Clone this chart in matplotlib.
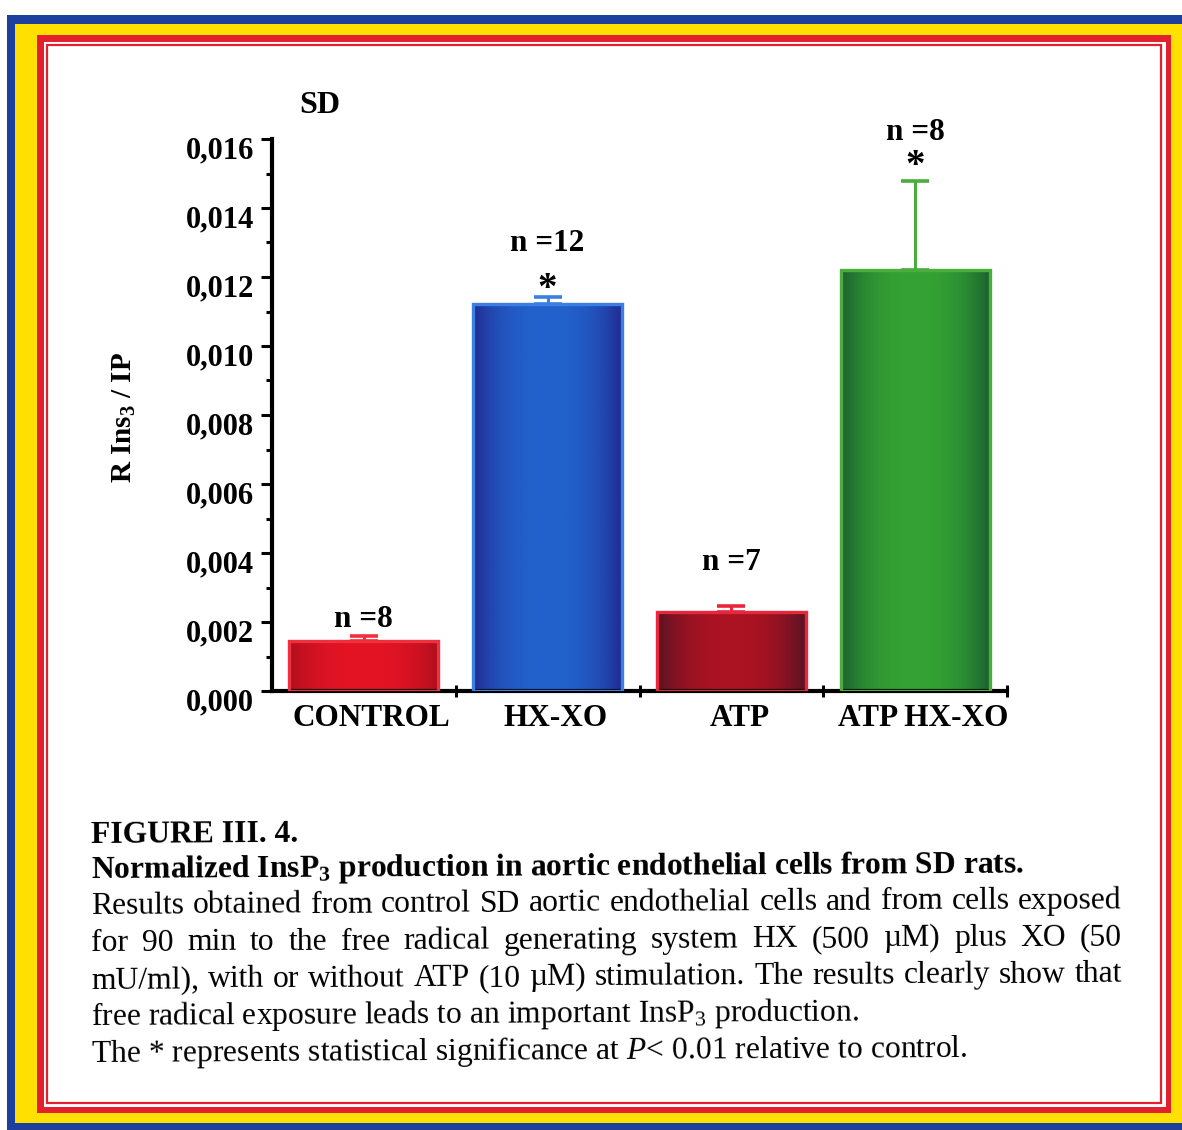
import matplotlib
matplotlib.use("Agg")
import matplotlib.pyplot as plt
import numpy as np
from matplotlib.patches import Rectangle
from matplotlib.colors import to_rgb
from matplotlib.transforms import ScaledTranslation

plt.rcParams['font.family'] = ['Liberation Serif', 'DejaVu Serif']
plt.rcParams['mathtext.fontset'] = 'custom'
plt.rcParams['mathtext.rm'] = 'Liberation Serif'
plt.rcParams['mathtext.it'] = 'Liberation Serif:italic'
plt.rcParams['mathtext.bf'] = 'Liberation Serif:bold'

# data
groups = ["CONTROL", "HX-XO", "ATP", "ATP HX-XO"]
means = [0.00145, 0.01122, 0.00229, 0.01220]
errors = [0.00013, 0.00020, 0.00016, 0.00258]
n_labels = ["n =8", "n =12", "n =7", "n =8"]
significant = [False, True, False, True]
yticks = [0.000, 0.002, 0.004, 0.006, 0.008, 0.010, 0.012, 0.014, 0.016]

# bar shading: dark edge -> bright middle, plus a lighter outline
edge_cols = ["#b00e1e", "#222a92", "#561424", "#1b6030"]
mid_cols = ["#e41424", "#2262cc", "#ac1222", "#34a234"]
line_cols = ["#f0303c", "#3a80e2", "#e8283a", "#4aad3c"]

# annotation heights (data units)
n_label_y = [0.00186, 0.01275, 0.00351, 0.01597]
star_y = [None, 0.01137, None, 0.01494]

W, H = 1182, 1130
fig = plt.figure(figsize=(W / 100, H / 100), dpi=100)

# --- page frame, drawn in pixel coordinates ---
bg = fig.add_axes([0, 0, 1, 1])
bg.set_xlim(0, W)
bg.set_ylim(H, 0)
bg.axis('off')
bg.add_patch(Rectangle((7, 15), W + 20, H + 20, color="#1d3f9e", lw=0))
bg.add_patch(Rectangle((15, 24), W + 20, 1123 - 24, color="#ffe000", lw=0))
bg.add_patch(Rectangle((37, 35), 1171 - 37, 1113 - 35, color="#e3202e", lw=0))
bg.add_patch(Rectangle((44, 42), 1166 - 44, 1107 - 42, color="white", lw=0))
bg.add_patch(Rectangle((47, 45), 1161 - 47, 1103 - 45, fill=False,
                       edgecolor="#e3202e", lw=1.6))

# --- bar chart ---
ax = fig.add_axes([272 / W, 1 - 691 / H, 735 / W, 552 / H])
ax.patch.set_alpha(0)

bw = 0.81
t = np.linspace(-1, 1, 300)
shade = 1 - np.abs(t) ** 2.5
for i in range(len(groups)):
    e = np.array(to_rgb(edge_cols[i]))
    m = np.array(to_rgb(mid_cols[i]))
    img = (e[None, :] + (m - e)[None, :] * shade[:, None])[None, :, :]
    x0 = i - bw / 2
    ax.imshow(img, extent=(x0, x0 + bw, 0, means[i]), aspect='auto',
              interpolation='bilinear', zorder=2)
    ax.add_patch(Rectangle((x0, 0), bw, means[i], fill=False,
                           edgecolor=line_cols[i], lw=2.4, zorder=3))
    ax.errorbar(i, means[i], yerr=[[0], [errors[i]]], fmt='none',
                ecolor=line_cols[i], elinewidth=2.2, capsize=10,
                capthick=2.6, zorder=4)
    ax.text(i, n_label_y[i], n_labels[i], ha='center', va='baseline',
            fontsize=22.5, fontweight='bold')
    if significant[i]:
        ax.text(i, star_y[i], "*", ha='center', va='baseline',
                fontsize=28, fontweight='bold')

ax.set_xlim(-0.5, 3.5)
ax.set_ylim(0, 0.016)
ax.spines['top'].set_visible(False)
ax.spines['right'].set_visible(False)
ax.spines['left'].set_linewidth(3)
ax.spines['bottom'].set_linewidth(3)

ax.set_yticks(yticks)
ax.set_yticklabels([f"{v:.3f}".replace('.', ',') for v in yticks],
                   fontsize=22, fontweight='bold')
ax.set_yticks(np.arange(0.001, 0.016, 0.002), minor=True)
ax.tick_params(axis='y', which='major', length=8, width=2.2, pad=5)
ax.tick_params(axis='y', which='minor', length=4.5, width=2.2)
for lab in ax.get_yticklabels():
    lab.set_transform(lab.get_transform() + ScaledTranslation(0, -0.08, fig.dpi_scale_trans))

ax.set_xticks(range(len(groups)))
ax.set_xticklabels(groups, fontsize=22.5, fontweight='bold')
ax.set_xticks([0.5, 1.5, 2.5, 3.5], minor=True)
ax.tick_params(axis='x', which='major', length=0, pad=9)
ax.tick_params(axis='x', which='minor', direction='inout', length=8, width=2.2)
for lab in ax.get_xticklabels():
    lab.set_transform(lab.get_transform() + ScaledTranslation(0.08, 0, fig.dpi_scale_trans))

fig.text(124 / W, 1 - 417 / H, r"R Ins$_\mathbf{3}$ / IP", rotation=90,
         ha='center', va='center', fontsize=21, fontweight='bold')
bg.text(299, 113, "SD", fontsize=23, fontweight='bold', va='baseline')

# --- caption ---
skew = 0.33
slope = np.tan(np.radians(skew))
x_left, x_right = 91, 1122
cap_size = 22.8
renderer = fig.canvas.get_renderer()


def plain_line(txt, y, **kw):
    bg.text(x_left, y, txt, va='baseline', ha='left', rotation=skew,
            rotation_mode='anchor', fontsize=cap_size, **kw)


def justified_line(txt, y):
    words = txt.split()
    arts = [bg.text(0, y, w, va='baseline', ha='left', rotation=skew,
                    rotation_mode='anchor', fontsize=cap_size) for w in words]
    widths = [a.get_window_extent(renderer).width for a in arts]
    gap = (x_right - x_left - sum(widths)) / (len(words) - 1)
    x = x_left
    for a, w in zip(arts, widths):
        a.set_position((x, y - slope * (x - x_left)))
        x += w + gap


plain_line("FIGURE III. 4.", 843, fontweight='bold')
plain_line(r"Normalized InsP$_\mathbf{3}$ production in aortic endothelial cells from SD rats.",
           878, fontweight='bold')
justified_line("Results obtained from control SD aortic endothelial cells and from cells exposed", 914)
justified_line("for 90 min to the free radical generating system HX (500 \u00b5M) plus XO (50", 951)
justified_line("mU/ml), with or without ATP (10 \u00b5M) stimulation. The results clearly show that", 988)
plain_line(r"free radical exposure leads to an important InsP$_3$ production.", 1025)
plain_line(r"The * represents statistical significance at $P$< 0.01 relative to control.", 1062)

fig.savefig("out.png", dpi=100)
